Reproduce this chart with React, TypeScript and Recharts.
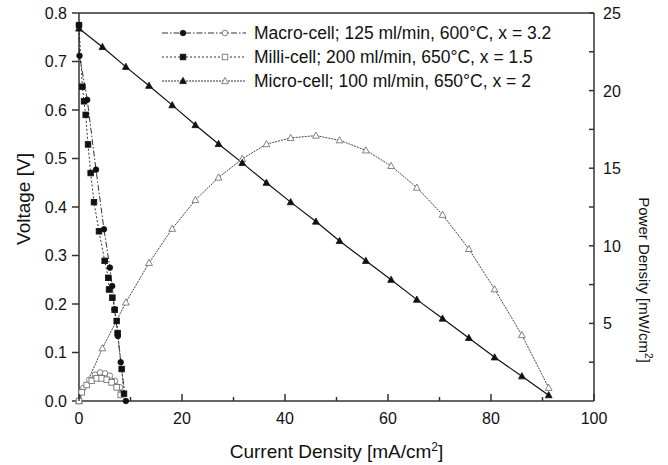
import React from 'react';
import { ComposedChart, Line, XAxis, YAxis, Legend, ReferenceLine } from 'recharts';

// current density [mA/cm2] and voltage [V] / power density [mW/cm2]
const macroCurrent = [0, 0.1, 1.6, 3.3, 4.85, 6.0, 6.45, 6.9, 7.55, 8.1, 9.1];
const macroVoltage = [0.775, 0.712, 0.621, 0.477, 0.354, 0.275, 0.237, 0.189, 0.134, 0.08, 0.0];
const macroPowerCurrent = [0, 0.84, 2.0, 3.1, 4.08, 5.05, 6.0, 7.0, 7.96, 8.3];
const macroPower = [0, 0.84, 1.37, 1.69, 1.84, 1.78, 1.63, 1.3, 0.88, 0.45];

const milliCurrent = [0, 0.65, 0.97, 1.3, 1.75, 2.27, 2.91, 3.88, 4.99, 5.69, 5.83, 6.48, 6.93, 7.32, 7.5, 8.29, 8.74];
const milliVoltage = [0.775, 0.648, 0.618, 0.59, 0.529, 0.47, 0.41, 0.35, 0.289, 0.254, 0.23, 0.213, 0.188, 0.165, 0.14, 0.066, 0.015];
const milliPowerCurrent = [0, 0.52, 1.5, 2.47, 3.44, 4.4, 5.38, 6.35, 7.32, 8.1];
const milliPower = [0, 0.56, 1.03, 1.3, 1.46, 1.46, 1.37, 1.2, 0.88, 0.39];

const microCurrent = [0, 4.55, 9.1, 13.6, 18.1, 22.6, 27.1, 31.7, 36.4, 41.1, 46.0, 50.6, 55.7, 60.6, 65.6, 70.6, 75.7, 80.7, 86.0, 91.2];
const microVoltage = [0.768, 0.73, 0.689, 0.65, 0.61, 0.569, 0.53, 0.491, 0.45, 0.41, 0.37, 0.33, 0.289, 0.25, 0.209, 0.17, 0.13, 0.09, 0.051, 0.012];
const microPower = [0, 3.4, 6.35, 8.9, 11.1, 12.95, 14.4, 15.6, 16.55, 16.95, 17.1, 16.8, 16.15, 15.15, 13.75, 12.0, 9.8, 7.2, 4.25, 0.85];

const xTicks = [0, 10, 20, 30, 40, 50, 60, 70, 80, 90, 100];
const voltageTicks = [0, 0.1, 0.2, 0.3, 0.4, 0.5, 0.6, 0.7, 0.8];
const powerTicks = [2.5, 5, 7.5, 10, 12.5, 15, 17.5, 20, 22.5, 25];

const legendLabels = [
  'Macro-cell; 125 ml/min, 600°C, x = 3.2',
  'Milli-cell; 200 ml/min, 650°C, x = 1.5',
  'Micro-cell; 100 ml/min, 650°C, x = 2',
];

const FONT = '"Liberation Sans", Arial, Helvetica, sans-serif';
const AXIS = '#333';

const pairs = (xs: number[], ys: number[]) => xs.map((x, i) => ({ x, y: ys[i] }));

type Shape = 'circle' | 'square' | 'triangle';

const marker = (shape: Shape, cx: number, cy: number, filled: boolean, key?: any) => {
  const fill = filled ? '#111' : '#fff';
  const stroke = filled ? '#111' : '#666';
  if (shape === 'circle') return <circle key={key} cx={cx} cy={cy} r={2.8} fill={fill} stroke={stroke} strokeWidth={0.8} />;
  if (shape === 'square') return <rect key={key} x={cx - 2.8} y={cy - 2.8} width={5.6} height={5.6} fill={fill} stroke={stroke} strokeWidth={0.8} />;
  return <polygon key={key} points={`${cx},${cy - 3.6} ${cx - 3.4},${cy + 2.6} ${cx + 3.4},${cy + 2.6}`} fill={fill} stroke={stroke} strokeWidth={0.8} />;
};

const dot = (shape: Shape, filled: boolean) => (p: any) =>
  p.cx == null || p.cy == null ? <g key={p.index} /> : marker(shape, p.cx, p.cy, filled, p.index);

const series = [
  { name: legendLabels[0], shape: 'circle' as Shape, dash: '6 2 1.5 2' },
  { name: legendLabels[1], shape: 'square' as Shape, dash: '2 2' },
  { name: legendLabels[2], shape: 'triangle' as Shape, dash: '2 1' },
];

const XTick = (props: any) => {
  const { x, y, payload } = props;
  const v = payload.value;
  const major = v % 20 === 0;
  return (
    <g>
      <line x1={x} x2={x} y1={y} y2={y - (major ? 7 : 4)} stroke={AXIS} strokeWidth={1.5} />
      {major && (
        <text x={x} y={y + 23} textAnchor="middle" fontSize={16} fontFamily={FONT} fill="#111">
          {v}
        </text>
      )}
    </g>
  );
};

const PowerTick = (props: any) => {
  const { x, y, payload } = props;
  const v = payload.value;
  const major = v % 5 === 0;
  return (
    <g>
      <line x1={x} x2={x - 5} y1={y} y2={y} stroke={AXIS} strokeWidth={1.5} />
      {major && (
        <text x={x + 9} y={y + 6} textAnchor="start" fontSize={16} fontFamily={FONT} fill="#111">
          {v}
        </text>
      )}
    </g>
  );
};

const renderLegend = () => (
  <div style={{ fontFamily: FONT, fontSize: 17.5, color: '#111', lineHeight: '24px' }}>
    {series.map((s) => (
      <div key={s.name} style={{ display: 'flex', alignItems: 'center', height: 24, whiteSpace: 'nowrap' }}>
        <svg width={84} height={16}>
          <line x1={0} x2={84} y1={8} y2={8} stroke="#333" strokeWidth={1} strokeDasharray={s.dash} />
          {marker(s.shape, 21, 8, true)}
          {marker(s.shape, 63, 8, false)}
        </svg>
        <span style={{ marginLeft: 8 }}>{s.name}</span>
      </div>
    ))}
  </div>
);

export default function App() {
  return (
    <div style={{ position: 'absolute', left: 0, top: 0 }}>
      <ComposedChart width={668} height={465} margin={{ top: 13, right: 0, bottom: 0, left: 0 }}>
        <XAxis
          type="number"
          dataKey="x"
          domain={[0, 100]}
          ticks={xTicks}
          interval={0}
          height={64}
          tickSize={0}
          tickMargin={0}
          tickLine={false}
          tick={<XTick />}
          axisLine={{ stroke: AXIS, strokeWidth: 1.5 }}
          label={{
            content: (p: any) => {
              const vb = p.viewBox || { x: 79, y: 401, width: 515 };
              return (
                <text x={vb.x + vb.width / 2} y={vb.y + 57} textAnchor="middle" fontSize={19} fontFamily={FONT} fill="#111">
                  Current Density [mA/cm<tspan dy={-7} fontSize={12}>2</tspan>
                  <tspan dy={7}>]</tspan>
                </text>
              );
            },
          }}
        />
        <YAxis
          yAxisId="v"
          type="number"
          domain={[0, 0.8]}
          ticks={voltageTicks}
          interval={0}
          width={79}
          tickSize={7}
          tickMargin={5}
          tickFormatter={(v: number) => v.toFixed(1)}
          tick={{ fontSize: 16, fill: '#111', fontFamily: FONT }}
          tickLine={{ stroke: AXIS, strokeWidth: 1.5 }}
          axisLine={{ stroke: AXIS, strokeWidth: 1.5 }}
          label={{
            content: (p: any) => {
              const vb = p.viewBox || { x: 0, y: 13, height: 388 };
              const cy = vb.y + vb.height / 2 - 8;
              return (
                <text x={30} y={cy} transform={`rotate(-90 30 ${cy})`} textAnchor="middle" fontSize={19} fontFamily={FONT} fill="#111">
                  Voltage [V]
                </text>
              );
            },
          }}
        />
        <YAxis
          yAxisId="p"
          orientation="right"
          type="number"
          domain={[0, 25]}
          ticks={powerTicks}
          interval={0}
          width={74}
          tickSize={0}
          tickMargin={0}
          tickLine={false}
          tick={<PowerTick />}
          axisLine={{ stroke: AXIS, strokeWidth: 1.5 }}
          label={{
            content: (p: any) => {
              const vb = p.viewBox || { x: 594, y: 13, height: 388 };
              const cx = vb.x + 45;
              const cy = vb.y + vb.height / 2 + 73;
              return (
                <text x={cx} y={cy} transform={`rotate(90 ${cx} ${cy})`} textAnchor="middle" fontSize={15} fontFamily={FONT} fill="#111">
                  Power Density [mW/cm<tspan dy={-6} fontSize={10}>2</tspan>
                  <tspan dy={6}>]</tspan>
                </text>
              );
            },
          }}
        />
        <ReferenceLine yAxisId="v" y={0.8} stroke={AXIS} strokeWidth={1.5} />
        <Legend
          layout="vertical"
          align="center"
          verticalAlign="middle"
          content={renderLegend}
          wrapperStyle={{ top: 21, left: 162, width: 'auto', height: 'auto' }}
        />

        <Line yAxisId="p" data={pairs(microCurrent, microPower)} dataKey="y" type="linear" stroke="#444" strokeWidth={1} strokeDasharray="2 1" dot={dot('triangle', false)} isAnimationActive={false} legendType="none" />
        <Line yAxisId="v" data={pairs(microCurrent, microVoltage)} dataKey="y" type="linear" stroke="#111" strokeWidth={1.2} dot={dot('triangle', true)} isAnimationActive={false} legendType="none" />

        <Line yAxisId="p" data={pairs(macroPowerCurrent, macroPower)} dataKey="y" type="linear" stroke="#555" strokeWidth={1} strokeDasharray="6 2 1.5 2" dot={dot('circle', false)} isAnimationActive={false} legendType="none" />
        <Line yAxisId="p" data={pairs(milliPowerCurrent, milliPower)} dataKey="y" type="linear" stroke="#555" strokeWidth={1} strokeDasharray="2 2" dot={dot('square', false)} isAnimationActive={false} legendType="none" />

        <Line yAxisId="v" data={pairs(macroCurrent, macroVoltage)} dataKey="y" type="linear" stroke="#333" strokeWidth={1} strokeDasharray="6 2 1.5 2" dot={dot('circle', true)} isAnimationActive={false} legendType="none" />
        <Line yAxisId="v" data={pairs(milliCurrent, milliVoltage)} dataKey="y" type="linear" stroke="#333" strokeWidth={1} strokeDasharray="2 2" dot={dot('square', true)} isAnimationActive={false} legendType="none" />
      </ComposedChart>
    </div>
  );
}
